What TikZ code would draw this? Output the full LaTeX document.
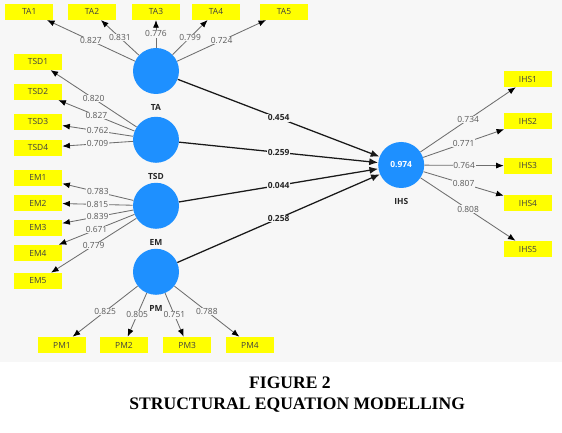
\documentclass[tikz,border=0pt]{standalone}
\usepackage{fontspec}
\setmainfont{Liberation Serif}
\newfontfamily\plsfont{Open Sans}
\usepackage{tikz}
\usetikzlibrary{arrows.meta}
\definecolor{PlsBlue}{HTML}{1E90FF}
\definecolor{PlsYellow}{HTML}{FFFF00}
\definecolor{PlsBack}{HTML}{F7F7F7}
\definecolor{LoadGrey}{HTML}{6E6E6E}

\begin{document}
\begin{tikzpicture}[
  font=\plsfont\fontsize{6}{7}\selectfont,
  >=Latex,
  latent/.style={circle,fill=PlsBlue,minimum size=11.5mm,inner sep=0pt,text=white,
    label={[font=\plsfont\fontsize{6}{7}\selectfont\bfseries,text=black!85,label distance=1.3mm]below:#1}},
  indicator/.style={fill=PlsYellow,minimum width=12mm,minimum height=4mm,inner sep=0pt,text=black!75},
  load/.style={-{Latex[length=1.9mm,width=1.5mm,color=black]},line width=0.6pt,draw=LoadGrey},
  inner/.style={-{Latex[length=2.2mm,width=1.8mm]},line width=0.9pt,draw=black!90},
  loadlab/.style={fill=PlsBack,inner sep=0.5pt,text=black!65,font=\plsfont\fontsize{6}{7}\selectfont},
  pathlab/.style={fill=PlsBack,inner sep=0.5pt,text=black!85,font=\plsfont\fontsize{6}{7}\selectfont\bfseries},
  captext/.style={font=\rmfamily\bfseries\fontsize{12.5}{14}\selectfont}
]
\useasboundingbox (0,0) rectangle (14.05,10.825);
\fill[PlsBack] (0,1.78) rectangle (14.05,10.825);

% latent variables
\node[latent=TA]  (ta)  at (3.90,9.05) {};
\node[latent=TSD] (tsd) at (3.90,7.33) {};
\node[latent=EM]  (em)  at (3.90,5.68) {};
\node[latent=PM]  (pm)  at (3.90,4.03) {};
\node[latent=IHS] (ihs) at (10.03,6.70) {\bfseries 0.974};

% TA indicators
\foreach \lab/\x/\w in {1/0.73/0.827,2/2.30/0.831,3/3.90/0.776,4/5.40/0.799,5/7.10/0.724} {
  \node[indicator] (ta\lab) at (\x,10.53) {TA\lab};
  \draw[load] (ta) -- node[loadlab]{\w} (ta\lab);
}

% TSD indicators
\foreach \lab/\y/\w in {1/9.28/0.820,2/8.53/0.827,3/7.78/0.762,4/7.13/0.709} {
  \node[indicator] (tsd\lab) at (0.95,\y) {TSD\lab};
  \draw[load] (tsd) -- node[loadlab]{\w} (tsd\lab);
}

% EM indicators
\foreach \lab/\y/\w in {1/6.38/0.783,2/5.75/0.815,3/5.13/0.839,4/4.50/0.671,5/3.80/0.779} {
  \node[indicator] (em\lab) at (0.95,\y) {EM\lab};
  \draw[load] (em) -- node[loadlab]{\w} (em\lab);
}

% PM indicators
\foreach \lab/\x/\w in {1/1.55/0.825,2/3.10/0.805,3/4.68/0.751,4/6.25/0.788} {
  \node[indicator] (pm\lab) at (\x,2.20) {PM\lab};
  \draw[load] (pm) -- node[loadlab]{\w} (pm\lab);
}

% IHS indicators
\foreach \lab/\y/\w in {1/8.85/0.734,2/7.80/0.771,3/6.68/0.764,4/5.75/0.807,5/4.60/0.808} {
  \node[indicator] (ihs\lab) at (13.20,\y) {IHS\lab};
  \draw[load] (ihs) -- node[loadlab]{\w} (ihs\lab);
}

% structural paths
\draw[inner] (ta)  -- node[pathlab]{0.454} (ihs);
\draw[inner] (tsd) -- node[pathlab]{0.259} (ihs);
\draw[inner] (em)  -- node[pathlab]{0.044} (ihs);
\draw[inner] (pm)  -- node[pathlab]{0.258} (ihs);

% caption
\node[captext] (figno) at (7.25,1.25) {FIGURE 2};
\node[captext] (figtitle) at (7.43,0.70) {STRUCTURAL EQUATION MODELLING};

\end{tikzpicture}
\end{document}
